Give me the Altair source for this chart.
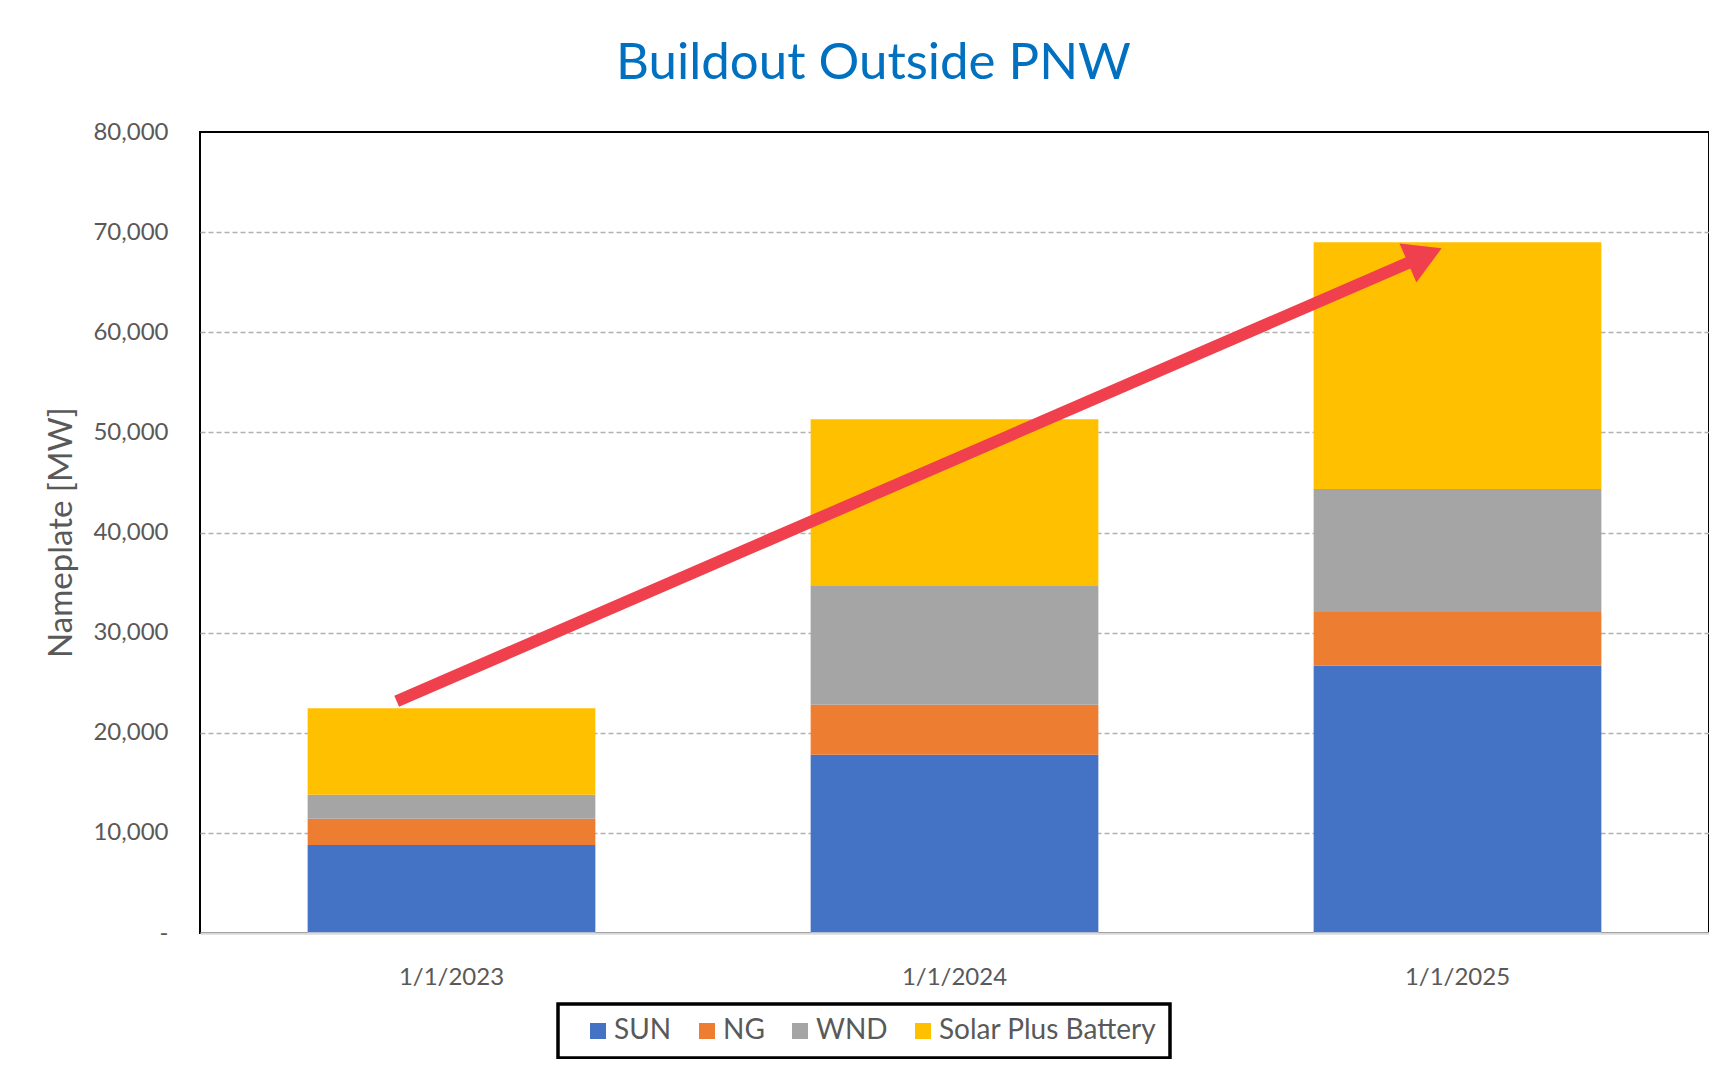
import altair as alt
import pandas as pd

# ---------------- data ----------------
dates = ["1/1/2023", "1/1/2024", "1/1/2025"]
series = ["SUN", "NG", "WND", "Solar Plus Battery"]
colors = ["#4472C4", "#ED7D31", "#A5A5A5", "#FFC000"]

sun = [8800, 17800, 26700]
ng = [2600, 5000, 5350]
wnd = [2400, 11850, 12300]
spb = [8650, 16650, 24650]

y_ticks = [0, 10000, 20000, 30000, 40000, 50000, 60000, 70000, 80000]

# trend arrow (x in category-band units: 0..3, y in MW)
arrow_x = [0.391, 2.435]
arrow_y = [23150, 67650]
arrow_angle = 336.5

# ---------------- build table ----------------
rows = []
for i, d in enumerate(dates):
    for k, (s, vals) in enumerate(zip(series, [sun, ng, wnd, spb])):
        rows.append({"date": d, "series": s, "order": k, "value": vals[i]})
df = pd.DataFrame(rows)

line_df = pd.DataFrame({"x": [arrow_x[0]], "x2": [arrow_x[1]],
                        "y": [arrow_y[0]], "y2": [arrow_y[1]]})
head_df = pd.DataFrame({"x": [arrow_x[1]], "y": [arrow_y[1]]})

FONT = "Lato"
GRAY = "#595959"
RED = "#F0404E"

bars = alt.Chart(df).mark_bar().encode(
    x=alt.X(
        "date:N", sort=dates,
        scale=alt.Scale(paddingInner=0.428, paddingOuter=0.214),
        axis=alt.Axis(title=None, labelAngle=0, labelFont=FONT, labelFontSize=24,
                      labelColor=GRAY, labelPadding=32, ticks=False, grid=False,
                      domainColor="#D9D9D9", domainWidth=2.5, zindex=1),
    ),
    y=alt.Y(
        "value:Q", stack="zero",
        scale=alt.Scale(domain=[0, 80000], nice=False),
        axis=alt.Axis(
            title="Nameplate [MW]", values=y_ticks,
            labelExpr="datum.value == 0 ? '-\u00a0\u00a0' : format(datum.value, ',')",
            labelFont=FONT, labelFontSize=24, labelColor=GRAY, labelPadding=32,
            ticks=False, domain=False,
            grid=True, gridColor="#B0B0B0", gridDash=[5, 3], gridWidth=1.5,
            gridOpacity={"condition": {"test": "datum.value == 0 || datum.value == 80000",
                                       "value": 0}, "value": 1},
            titleFont=FONT, titleFontSize=33, titleColor=GRAY, titleFontWeight="normal",
            titleAngle=270, titleX=-139, titleY=400, titleAlign="center",
            titleBaseline="middle",
        ),
    ),
    color=alt.Color(
        "series:N",
        scale=alt.Scale(domain=series, range=colors),
        legend=alt.Legend(
            title=None, orient="none", legendX=358, legendY=872,
            direction="horizontal", columns=4,
            symbolType="square", symbolSize=256, symbolStrokeWidth=0, symbolOffset=13,
            labelFont=FONT, labelFontSize=28, labelColor=GRAY, labelOffset=2,
            labelLimit=500,
            columnPadding=8, padding=13, strokeColor="black", fillColor="white",
            cornerRadius=0,
        ),
    ),
    order=alt.Order("order:Q"),
)

xs = alt.Scale(domain=[0, 3], nice=False, zero=False)
ys = alt.Scale(domain=[0, 80000], nice=False)

arrow_line = alt.Chart(line_df).mark_rule(color=RED, strokeWidth=12).encode(
    x=alt.X("x:Q", scale=xs, axis=None),
    x2="x2:Q",
    y=alt.Y("y:Q", scale=ys, axis=None),
    y2="y2:Q",
)

arrow_head = alt.Chart(head_df).mark_point(
    shape="triangle-right", filled=True, size=1800, angle=arrow_angle,
    color=RED, opacity=1, strokeWidth=0,
).encode(
    x=alt.X("x:Q", scale=xs, axis=None),
    y=alt.Y("y:Q", scale=ys, axis=None),
)

chart = alt.layer(bars, arrow_line, arrow_head).resolve_scale(
    x="independent", y="independent"
).properties(
    width=1509,
    height=801,
    autosize=alt.AutoSizeParams(type="none"),
    padding={"left": 192, "top": 124, "right": 0, "bottom": 126},
    background="white",
    title=alt.Title("Buildout Outside PNW", font=FONT, fontSize=51, color="#0070C0",
                    fontWeight="normal", anchor="middle", dx=-81, offset=30),
).configure_view(
    stroke="black", strokeWidth=2
).configure_legend(
    strokeWidth=3.5
)

chart.save("out.html", embed_options={"renderer": "svg", "actions": False})
